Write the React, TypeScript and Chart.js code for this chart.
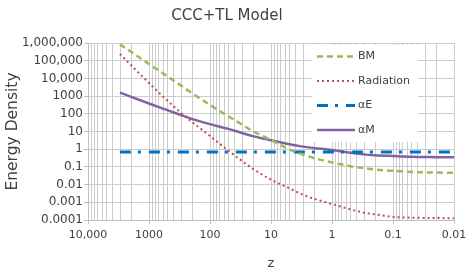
import React, { useEffect, useRef } from 'react';
import { Chart, registerables } from 'chart.js';

Chart.register(...registerables);

// ---- Data ----
const zValues = [3000, 2000, 1000, 500, 300, 200, 100, 50, 30, 20, 10, 5, 3, 2, 1, 0.5, 0.3, 0.2, 0.1, 0.05, 0.02, 0.01];
const bmValues = [850000, 330000, 65000, 13000, 4000, 1500, 320, 72, 25, 10.5, 3.3, 0.95, 0.5, 0.32, 0.18, 0.11, 0.085, 0.072, 0.06, 0.052, 0.048, 0.047];
const radiationValues = [240000, 59000, 5500, 560, 115, 36, 5.6, 0.83, 0.22, 0.08, 0.019, 0.0062, 0.0027, 0.0016, 0.0008, 0.0004, 0.00026, 0.00021, 0.00015, 0.000135, 0.000129, 0.000126];
const alphaEValues = [0.7, 0.7, 0.7, 0.7, 0.7, 0.7, 0.7, 0.7, 0.7, 0.7, 0.7, 0.7, 0.7, 0.7, 0.7, 0.7, 0.7, 0.7, 0.7, 0.7, 0.7, 0.7];
const alphaMValues = [1580, 930, 380, 160, 85, 52, 26, 14, 8.3, 5.5, 3.2, 1.9, 1.4, 1.17, 0.9, 0.63, 0.51, 0.46, 0.41, 0.37, 0.355, 0.35];

const seriesLabels = ['BM', 'Radiation', 'αE', 'αM'];

const xTickValues = [10000, 1000, 100, 10, 1, 0.1, 0.01];
const xTickLabels = ['10,000', '1000', '100', '10', '1', '0.1', '0.01'];
const yTickValues = [1000000, 100000, 10000, 1000, 100, 10, 1, 0.1, 0.01, 0.001, 0.0001];
const yTickLabels = ['1,000,000', '100,000', '10,000', '1000', '100', '10', '1', '0.1', '0.01', '0.001', '0.0001'];

const FONT = 'DejaVu Sans';
const TEXT = '#404040';
const GRID = '#cccccc';

function sameVal(a: number, b: number) {
  return Math.abs(Math.log10(a) - Math.log10(b)) < 1e-6;
}

function minorXValues() {
  const out: number[] = [];
  const decades = xTickValues.slice().sort((a, b) => a - b);
  for (let i = 0; i < decades.length - 1; i++) {
    for (let m = 2; m <= 9; m++) out.push(parseFloat((m * decades[i]).toPrecision(6)));
  }
  return out;
}

const minorGridPlugin = {
  id: 'minorGrid',
  beforeDatasetsDraw(chart: any) {
    const ctx = chart.ctx;
    const xs = chart.scales.x;
    const { top, bottom } = chart.chartArea;
    ctx.save();
    ctx.strokeStyle = GRID;
    ctx.lineWidth = 1;
    ctx.beginPath();
    minorXValues().forEach((v) => {
      const px = Math.round(xs.getPixelForValue(v)) + 0.5;
      ctx.moveTo(px, top);
      ctx.lineTo(px, bottom);
    });
    ctx.stroke();
    ctx.restore();
  },
};

const legendPlugin = {
  id: 'insideLegend',
  afterDraw(chart: any) {
    const ctx = chart.ctx;
    ctx.save();
    ctx.fillStyle = '#ffffff';
    ctx.fillRect(312, 45, 106, 97);
    const rows = [56.5, 81, 105.5, 130];
    chart.data.datasets.forEach((ds: any, i: number) => {
      const y = rows[i];
      ctx.beginPath();
      ctx.setLineDash(ds.borderDash || []);
      ctx.lineWidth = ds.borderWidth;
      ctx.strokeStyle = ds.borderColor;
      ctx.lineCap = 'butt';
      ctx.moveTo(317, y);
      ctx.lineTo(355, y);
      ctx.stroke();
      ctx.setLineDash([]);
      ctx.fillStyle = TEXT;
      ctx.font = `11px "${FONT}"`;
      ctx.textBaseline = 'middle';
      ctx.textAlign = 'left';
      ctx.fillText(ds.label, 358, y);
    });
    ctx.restore();
  },
};

export default function App() {
  const ref = useRef<HTMLCanvasElement | null>(null);

  useEffect(() => {
    if (!ref.current) return;
    const mk = (vals: number[]) => zValues.map((z, i) => ({ x: z, y: vals[i] }));
    const chart = new Chart(ref.current, {
      type: 'line',
      data: {
        datasets: [
          {
            label: seriesLabels[0],
            data: mk(bmValues),
            borderColor: '#9BBB59',
            borderWidth: 2.5,
            borderDash: [6, 4],
            pointRadius: 0,
            cubicInterpolationMode: 'monotone',
          },
          {
            label: seriesLabels[1],
            data: mk(radiationValues),
            borderColor: '#C0504D',
            borderWidth: 2,
            borderDash: [2, 3],
            pointRadius: 0,
            cubicInterpolationMode: 'monotone',
          },
          {
            label: seriesLabels[2],
            data: mk(alphaEValues),
            borderColor: '#0070C0',
            borderWidth: 3,
            borderDash: [11, 7, 3, 8],
            pointRadius: 0,
          },
          {
            label: seriesLabels[3],
            data: mk(alphaMValues),
            borderColor: '#8064A2',
            borderWidth: 2.5,
            pointRadius: 0,
            cubicInterpolationMode: 'monotone',
          },
        ],
      } as any,
      options: {
        animation: false,
        responsive: false,
        maintainAspectRatio: false,
        layout: { padding: { left: 0, right: 16, top: 0, bottom: 0 } },
        plugins: {
          legend: { display: false },
          tooltip: { enabled: false },
          title: {
            display: true,
            text: 'CCC+TL Model',
            color: TEXT,
            font: { family: FONT, size: 15, weight: 'normal' },
            padding: { top: 7, bottom: 18 },
          },
        },
        scales: {
          x: {
            type: 'logarithmic',
            position: 'bottom',
            reverse: true,
            min: 0.01,
            max: 10000,
            afterBuildTicks: (scale: any) => {
              scale.ticks = xTickValues.map((v) => ({ value: v }));
            },
            afterFit: (scale: any) => {
              scale.height = 53;
              scale.paddingLeft = 0;
              scale.paddingRight = 0;
            },
            ticks: {
              autoSkip: false,
              maxRotation: 0,
              minRotation: 0,
              padding: 5,
              color: TEXT,
              font: { family: FONT, size: 11 },
              callback: (v: any) => {
                const idx = xTickValues.findIndex((t) => sameVal(t, Number(v)));
                return idx >= 0 ? xTickLabels[idx] : '';
              },
            },
            grid: {
              color: GRID,
              lineWidth: 1,
              tickLength: 4,
              tickColor: '#bfbfbf',
            },
            border: { display: true, color: '#bfbfbf' },
            title: {
              display: true,
              text: 'z',
              color: TEXT,
              font: { family: FONT, size: 13 },
              padding: { top: 0, bottom: 2 },
            },
          },
          y: {
            type: 'logarithmic',
            position: 'left',
            min: 0.0001,
            max: 1000000,
            afterBuildTicks: (scale: any) => {
              scale.ticks = yTickValues.slice().reverse().map((v) => ({ value: v }));
            },
            afterFit: (scale: any) => {
              scale.width = 88;
              scale.paddingTop = 0;
              scale.paddingBottom = 0;
            },
            ticks: {
              autoSkip: false,
              padding: 1,
              color: TEXT,
              font: { family: FONT, size: 12 },
              callback: (v: any) => {
                const idx = yTickValues.findIndex((t) => sameVal(t, Number(v)));
                return idx >= 0 ? yTickLabels[idx] : '';
              },
            },
            grid: {
              color: GRID,
              lineWidth: 1,
              tickLength: 4,
              tickColor: '#bfbfbf',
            },
            border: { display: true, color: '#bfbfbf' },
            title: {
              display: true,
              text: 'Energy Density',
              color: TEXT,
              font: { family: FONT, size: 15.5 },
              padding: { top: 4, bottom: 4 },
            },
          },
        },
      } as any,
      plugins: [minorGridPlugin, legendPlugin],
    });
    return () => chart.destroy();
  }, []);

  return (
    <div style={{ position: 'absolute', left: 0, top: 0, width: 470, height: 273, background: '#fff' }}>
      <canvas ref={ref} width={470} height={273} style={{ width: 470, height: 273, display: 'block' }} />
    </div>
  );
}
